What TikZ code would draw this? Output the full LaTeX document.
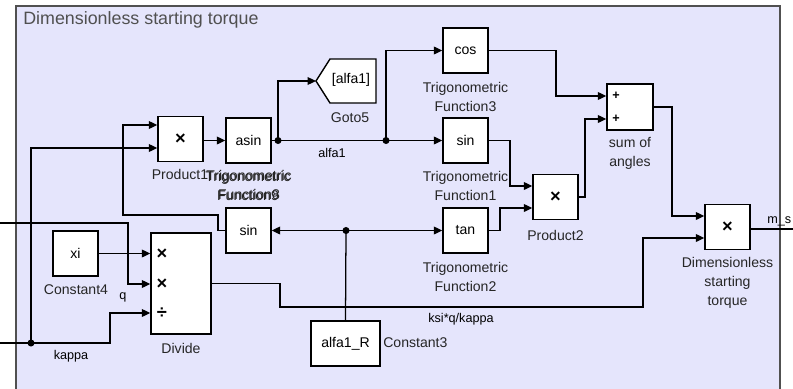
\documentclass[tikz,border=0pt]{standalone}
\usepackage{fontspec}
\setmainfont{Liberation Sans}
\usetikzlibrary{arrows.meta}
\definecolor{areafill}{RGB}{229,229,252}
\definecolor{areaedge}{RGB}{80,80,80}
\begin{document}
\begin{tikzpicture}[x=0.025cm, y=-0.025cm,
  blk/.style={draw, fill=white, line width=1pt, inner sep=0pt,
    minimum width=1.125cm, minimum height=1.125cm, font=\fontsize{10}{12}\selectfont},
  lbl/.style={align=center, inner sep=0pt, font=\fontsize{10}{13.5}\selectfont, text=black!85},
  lin/.style={inner sep=0pt, font=\fontsize{9}{10}\selectfont},
  sgn/.style={inner sep=0pt, font=\fontsize{13}{13}\selectfont\bfseries},
  wire/.style={line width=0.9pt},
  sig/.style={line width=0.9pt, -{Triangle[length=6pt,width=5.5pt]}},
  jn/.style={circle, fill, inner sep=0pt, minimum size=5pt}]
\useasboundingbox (0,0) rectangle (793,388);
\fill[areafill] (16,6) rectangle (780,400);
\draw[areaedge, line width=1.5pt] (16,400) -- (16,6) -- (780,6) -- (780,400);
\node[anchor=west, inner sep=0pt, font=\fontsize{12.7}{14}\selectfont, text=areaedge] (title) at (23,20) {Dimensionless starting torque};

% blocks
\node[blk, font=\fontsize{13}{13}\selectfont\bfseries] (prodA) at (180.5,139) {×};
\node[blk] (asinF) at (248.5,140.5) {asin};
\node[blk] (cosF) at (465.5,50.5) {cos};
\node[blk] (sinF) at (465.5,140.5) {sin};
\node[blk] (sinR) at (248.5,230.5) {sin};
\node[blk] (tanF) at (465.5,230.5) {tan};
\node[blk, font=\fontsize{13}{13}\selectfont\bfseries] (prodB) at (555.5,197) {×};
\node[blk, minimum width=1.15cm, minimum height=1.15cm] (sumA) at (630,107) {};
\node[blk, font=\fontsize{13}{13}\selectfont\bfseries] (torque) at (727.5,227) {×};
\node[blk] (constXi) at (75.5,253.5) {xi};
\node[blk, minimum width=1.5cm, minimum height=2.525cm] (divide) at (181,283.5) {};
\node[blk, minimum width=1.725cm] (constR) at (345.5,343.5) {alfa1\_R};
\draw[fill=white, line width=1pt] (316,81) -- (330,59) -- (376,59) -- (376,103) -- (330,103) -- cycle;
\coordinate (gotoIn) at (316,81);
\node[lin, font=\fontsize{10}{12}\selectfont] (gotoTxt) at (351,80) {[alfa1]};

% signs
\node[sgn] (dvS1) at (162,254) {×};
\node[sgn] (dvS2) at (162,284) {×};
\node[sgn] (dvS3) at (162,313) {÷};
\node[sgn, font=\fontsize{9}{9}\selectfont\bfseries] (smS1) at (616,96) {+};
\node[sgn, font=\fontsize{9}{9}\selectfont\bfseries] (smS2) at (616,119) {+};

% labels
\node[lbl] (prodALbl) at (180,174) {Product1};
\node[lbl] (asinLbl) at (249,185) {Trigonometric\\Function8};
\node[lbl] (sinRLbl) at (248,186) {Trigonometric\\Function9};
\node[lbl] (gotoLbl) at (350,118) {Goto5};
\node[lbl] (cosLbl) at (465.5,97) {Trigonometric\\Function3};
\node[lbl] (sinLbl) at (465.5,186) {Trigonometric\\Function1};
\node[lbl] (tanLbl) at (465.5,277) {Trigonometric\\Function2};
\node[lbl] (prodBLbl) at (555.5,235) {Product2};
\node[lbl] (sumLbl) at (630,153) {sum of\\angles};
\node[lbl] (torqueLbl) at (727.5,283) {Dimensionless\\starting\\torque};
\node[lbl] (xiLbl) at (76,290) {Constant4};
\node[lbl] (divLbl) at (181,348) {Divide};
\node[lbl, anchor=west] (constRLbl) at (383,343) {Constant3};

% junctions
\node[jn] (jA) at (278,140.5) {};
\node[jn] (jB) at (386,140.5) {};
\node[jn] (jC) at (346,230.5) {};
\node[jn] (jK) at (31,343) {};
\coordinate (kIn) at (0,343);
\coordinate (qIn) at (0,223);
\coordinate (mOut) at (793,229);

% signals
\path[draw,sig] (prodA.east |- asinF.west) -- (asinF.west);
\path[draw,wire] (asinF.east) -- (jA.center);
\path[draw,sig] (jA.center) |- (gotoIn);
\path[draw,wire] (jA.center) -- (jB.center);
\path[draw,sig] (jB.center) |- (cosF.west);
\path[draw,sig] (jB.center) -- (sinF.west);
\node[lin] (alfaLbl) at (332,153) {alfa1};

\path[draw,sig] (cosF.east) -- (556,50.5) |- (sumA.west |- 0,96);
\path[draw,sig] (sinF.east) -- (510,140.5) |- (prodB.west |- 0,186);
\path[draw,sig] (tanF.east) -- (500,230.5) |- (prodB.west |- 0,208);
\path[draw,sig] (prodB.east) -- (585,197) |- (sumA.west |- 0,119);
\path[draw,sig] (sumA.east) -- (672,107) |- (torque.west |- 0,216);
\path[draw,wire] (torque.east |- mOut) -- (mOut);
\node[lin, anchor=south west] (mLbl) at (767,226) {m\_s};

\path[draw,wire] (constR.north) -- (jC.center);
\path[draw,sig] (jC.center) -- (sinR.east);
\path[draw,sig] (jC.center) -- (tanF.west);
\path[draw,sig] (sinR.west) -| (218,215) -| (123,125) -- (prodA.west |- 0,125);

\path[draw,wire] (kIn) -- (jK.center);
\path[draw,sig] (jK.center) |- (prodA.west |- 0,148);
\path[draw,sig] (jK.center) -- (110,343) |- (divide.west |- 0,313);
\node[lin] (kLbl) at (71,356) {kappa};
\path[draw,sig] (qIn) -- (128,223) |- (divide.west |- 0,284);
\node[lin] (qLbl) at (123,297) {q};
\path[draw,sig] (constXi.east) -- (divide.west |- constXi.east);

\path[draw,sig] (divide.east) -- (280,283.5) |- (643,307) |- (torque.west |- 0,238);
\node[lin] (ksiLbl) at (461,319) {ksi*q/kappa};
\end{tikzpicture}
\end{document}
